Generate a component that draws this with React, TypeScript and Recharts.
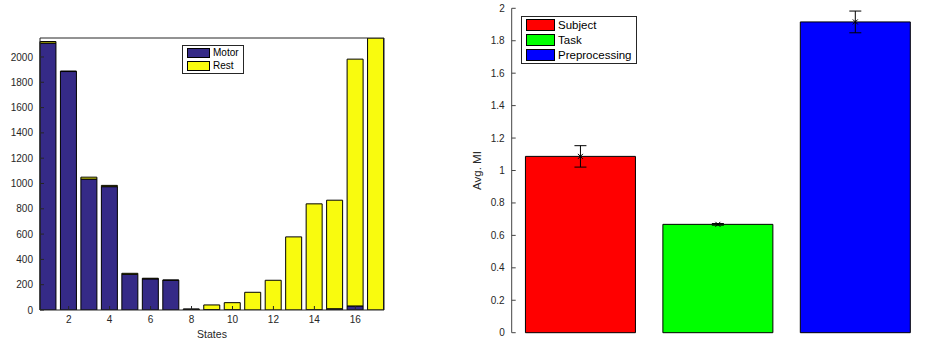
import React from "react";
import {
  BarChart,
  Bar,
  XAxis,
  YAxis,
  Legend,
  ErrorBar,
  Cell,
  LabelList,
} from "recharts";

// left panel: state occupancy per condition
const states = [1, 2, 3, 4, 5, 6, 7, 8, 9, 10, 11, 12, 13, 14, 15, 16, 17];
const motorCounts = [2110, 1885, 1035, 975, 282, 246, 235, 5, 3, 2, 0, 0, 0, 2, 10, 32, 0];
const restCounts = [12, 4, 15, 10, 8, 5, 2, 3, 37, 56, 140, 235, 578, 837, 858, 1951, 2150];
const stateTicks = [2, 4, 6, 8, 10, 12, 14, 16];
const countTicks = [0, 200, 400, 600, 800, 1000, 1200, 1400, 1600, 1800, 2000];

// right panel: average mutual information per factor
const factors = ["Subject", "Task", "Preprocessing"];
const avgMI = [1.087, 0.668, 1.916];
const errMI = [0.066, 0.005, 0.067];
const miTicks = [0, 0.2, 0.4, 0.6, 0.8, 1, 1.2, 1.4, 1.6, 1.8, 2];

const MOTOR = "#352a87";
const REST = "#f9fb0e";
const factorColors = ["#ff0000", "#00ff00", "#0000ff"];
const AXIS = "#262626";
const FONT = "'Liberation Sans', Arial, sans-serif";

const stateData = states.map((s, i) => ({
  state: s,
  motor: motorCounts[i],
  rest: restCounts[i],
}));

const miData = factors.map((f, i) => ({
  name: f,
  mi: avgMI[i],
  err: errMI[i],
}));

function LegendBox({
  items,
  fontSize,
  swatchW,
  swatchH,
  rowGap,
}: {
  items: { label: string; color: string }[];
  fontSize: number;
  swatchW: number;
  swatchH: number;
  rowGap: number;
}) {
  return (
    <div
      style={{
        border: "1px solid #262626",
        background: "#fff",
        padding: "2px 4px 2px 4px",
        fontFamily: FONT,
        fontSize,
        color: "#000",
      }}
    >
      {items.map((it, i) => (
        <div
          key={it.label}
          style={{
            display: "flex",
            alignItems: "center",
            marginTop: i === 0 ? 0 : rowGap,
            lineHeight: `${swatchH}px`,
          }}
        >
          <span
            style={{
              display: "inline-block",
              width: swatchW,
              height: swatchH,
              background: it.color,
              border: "1px solid #000",
              boxSizing: "border-box",
              marginRight: 3,
            }}
          />
          <span>{it.label}</span>
        </div>
      ))}
    </div>
  );
}

// little "x" drawn at the mean, like the MATLAB errorbar marker
const MeanMarker = (props: any) => {
  const { x, y, width } = props;
  const cx = x + width / 2;
  const r = 2.5;
  return (
    <g stroke="#000" strokeWidth={1}>
      <line x1={cx - r} y1={y - r} x2={cx + r} y2={y + r} />
      <line x1={cx - r} y1={y + r} x2={cx + r} y2={y - r} />
    </g>
  );
};

function StatesChart() {
  const tickStyle = { fill: AXIS, fontSize: 10, fontFamily: FONT };
  return (
    <BarChart
      width={400}
      height={343}
      data={stateData}
      margin={{ top: 37, right: 15, bottom: 0, left: 0 }}
    >
      <XAxis
        dataKey="state"
        type="number"
        domain={[0.6, 17.4]}
        ticks={stateTicks}
        height={33}
        stroke={AXIS}
        tick={tickStyle}
        tickSize={-4}
        tickMargin={10}
        label={{
          value: "States",
          position: "insideBottom",
          offset: 5,
          fill: AXIS,
          fontSize: 10.5,
          fontFamily: FONT,
        }}
      />
      <XAxis
        xAxisId="top"
        orientation="top"
        type="number"
        domain={[0.6, 17.4]}
        ticks={stateTicks}
        height={1}
        stroke={AXIS}
        tick={false}
        tickSize={-4}
      />
      <YAxis
        type="number"
        domain={[0, 2150]}
        allowDataOverflow
        ticks={countTicks}
        width={40}
        stroke={AXIS}
        tick={tickStyle}
        tickSize={-4}
        tickMargin={11}
      />
      <YAxis
        yAxisId="right"
        orientation="right"
        type="number"
        domain={[0, 2150]}
        allowDataOverflow
        ticks={countTicks}
        width={1}
        stroke={AXIS}
        tick={false}
        tickSize={-4}
      />
      <Legend
        layout="vertical"
        align="center"
        verticalAlign="middle"
        wrapperStyle={{ left: 182, top: 45, width: "auto" }}
        content={() => (
          <LegendBox
            items={[
              { label: "Motor", color: MOTOR },
              { label: "Rest", color: REST },
            ]}
            fontSize={10}
            swatchW={23}
            swatchH={10}
            rowGap={3}
          />
        )}
      />
      <Bar
        dataKey="motor"
        stackId="a"
        fill={MOTOR}
        stroke="#000"
        strokeWidth={1}
        barSize={16}
        isAnimationActive={false}
      />
      <Bar
        dataKey="rest"
        stackId="a"
        fill={REST}
        stroke="#000"
        strokeWidth={1}
        barSize={16}
        isAnimationActive={false}
      />
    </BarChart>
  );
}

function MIChart() {
  const tickStyle = { fill: AXIS, fontSize: 10, fontFamily: FONT };
  return (
    <BarChart
      width={496}
      height={343}
      data={miData}
      barCategoryGap="10%"
      margin={{ top: 8.3, right: 2, bottom: 10.3, left: 11.7 }}
    >
      <XAxis
        dataKey="name"
        height={0}
        stroke="#444"
        tick={false}
        tickSize={-3}
      />
      <YAxis
        type="number"
        domain={[0, 2]}
        ticks={miTicks}
        width={70}
        stroke="#444"
        tick={tickStyle}
        tickSize={-4}
        tickMargin={11}
        label={{
          value: "Avg. MI",
          angle: -90,
          position: "center",
          fill: AXIS,
          fontSize: 11.5,
          fontFamily: FONT,
        }}
      />
      <Legend
        layout="vertical"
        align="center"
        verticalAlign="middle"
        wrapperStyle={{ left: 91, top: 16, width: "auto" }}
        content={() => (
          <LegendBox
            items={factors.map((f, i) => ({ label: f, color: factorColors[i] }))}
            fontSize={11.5}
            swatchW={29}
            swatchH={12}
            rowGap={3}
          />
        )}
      />
      <Bar
        dataKey="mi"
        stroke="#000"
        strokeWidth={1}
        isAnimationActive={false}
      >
        {miData.map((d, i) => (
          <Cell key={d.name} fill={factorColors[i]} />
        ))}
        <ErrorBar dataKey="err" width={6} stroke="#000" strokeWidth={1} />
        <LabelList dataKey="mi" content={MeanMarker} />
      </Bar>
    </BarChart>
  );
}

export default function App() {
  return (
    <div
      style={{
        position: "absolute",
        left: 0,
        top: 0,
        width: 926,
        height: 343,
        background: "#fff",
        fontFamily: FONT,
      }}
    >
      <div style={{ position: "absolute", left: 0, top: 0 }}>
        <StatesChart />
      </div>
      <div style={{ position: "absolute", left: 430, top: 0 }}>
        <MIChart />
      </div>
    </div>
  );
}
